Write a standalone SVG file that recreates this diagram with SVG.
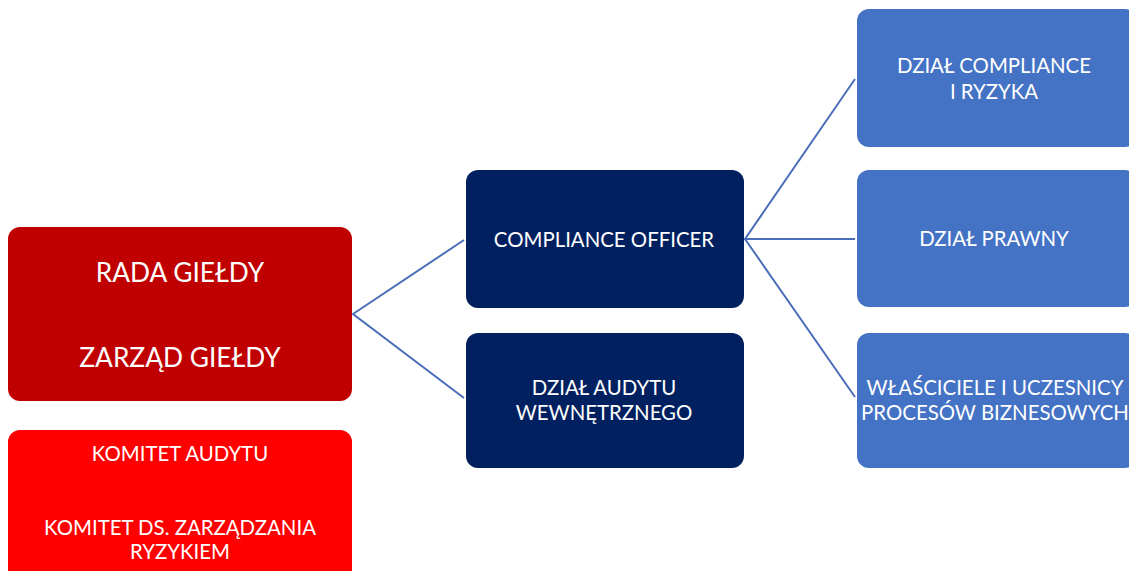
<svg xmlns="http://www.w3.org/2000/svg" width="1129" height="571" viewBox="0 0 1129 571">
<style>
text{font-family:Lato,"Liberation Sans",sans-serif;fill:#fff;text-anchor:middle;dominant-baseline:central}
.l{font-size:26.3px}
.m{font-size:20.4px}
.c{stroke:#4A6EB8;stroke-width:2;fill:none}
</style>
<rect width="1129" height="571" fill="#fff"/>
<g id="connectors">
<path class="c" d="M464 240 L353 314 L464 398"/>
<path class="c" d="M855 79 L745 239 L855 239 M745 239 L855 397"/>
</g>
<g id="rada">
<rect x="8" y="227" width="344" height="174" rx="12" fill="#C00000"/>
<text class="l" x="180" y="272">RADA GIEŁDY</text>
<text class="l" x="180" y="357">ZARZĄD GIEŁDY</text>
</g>
<g id="komitet">
<rect x="8" y="430" width="344" height="160" rx="12" fill="#FF0000"/>
<text class="m" x="180" y="453">KOMITET AUDYTU</text>
<text class="m" x="180" y="527">KOMITET DS. ZARZĄDZANIA</text>
<text class="m" x="180" y="551">RYZYKIEM</text>
</g>
<g id="compliance-officer">
<rect x="466" y="170" width="278" height="138" rx="12" fill="#002060"/>
<text class="m" x="604" y="239">COMPLIANCE OFFICER</text>
</g>
<g id="audyt">
<rect x="466" y="333" width="278" height="135" rx="12" fill="#002060"/>
<text class="m" x="604" y="387">DZIAŁ AUDYTU</text>
<text class="m" x="604" y="412">WEWNĘTRZNEGO</text>
</g>
<g id="dzial-compliance">
<rect x="857" y="9" width="280" height="138" rx="12" fill="#4472C4"/>
<text class="m" x="994" y="65">DZIAŁ COMPLIANCE</text>
<text class="m" x="994" y="91">I RYZYKA</text>
</g>
<g id="prawny">
<rect x="857" y="170" width="280" height="137" rx="12" fill="#4472C4"/>
<text class="m" x="994" y="238">DZIAŁ PRAWNY</text>
</g>
<g id="wlasciciele">
<rect x="857" y="333" width="280" height="135" rx="12" fill="#4472C4"/>
<text class="m" x="995" y="387">WŁAŚCICIELE I UCZESNICY</text>
<text class="m" x="995" y="412">PROCESÓW BIZNESOWYCH</text>
</g>
</svg>
